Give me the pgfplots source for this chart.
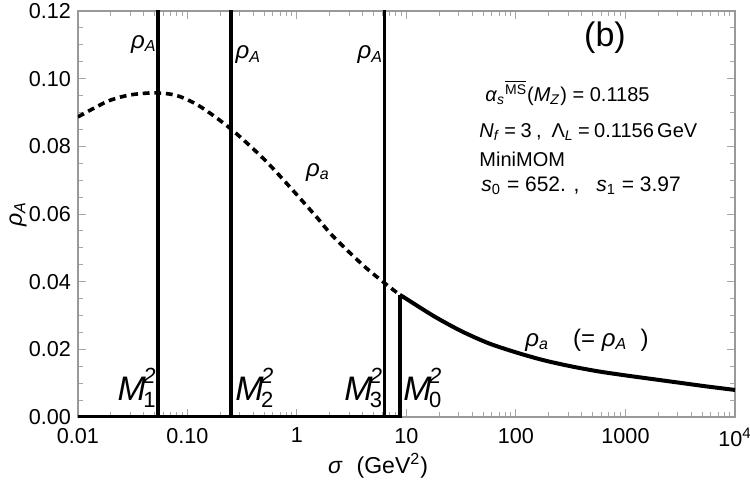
\documentclass[border=0pt]{standalone}
\usepackage{fontspec}
\setmainfont{Liberation Sans}
\usepackage{pgfplots}
\pgfplotsset{compat=1.18}

\newcommand{\rA}{\textit{ρ}\textsubscript{\textit{A}}}
\newcommand{\ra}{\textit{ρ}\textsubscript{\textit{a}}}
% M^2 with stacked sub- and superscript
\newcommand{\Msq}[1]{\textit{M}\kern-0.08em\raisebox{0pt}[0pt][0pt]{\makebox[0pt][l]{\raisebox{0.50em}{\fontsize{11}{12}\selectfont\textit{2}}}\raisebox{-0.22em}{\fontsize{11}{12}\selectfont #1}}\hspace{0.6em}}

\begin{document}
\begin{tikzpicture}
\begin{axis}[
  scale only axis,
  width=328.5pt, height=203pt,
  xmode=log,
  xmin=0.01, xmax=10000,
  ymin=0, ymax=0.12,
  xtick={0.01,0.1,1,10,100,1000,10000},
  xticklabels={0.01,0.10,1,10,100,1000,10\textsuperscript{4}},
  ytick={0,0.02,0.04,0.06,0.08,0.10,0.12},
  yticklabel style={/pgf/number format/.cd,fixed,fixed zerofill,precision=2},
  xticklabel style={yshift=-2pt},
  minor y tick num=3,
  /pgf/number format/assume math mode=true,
  tick label style={font=\fontsize{10.8}{12}\selectfont, text=black},
  tick align=inside,
  tick style={gray!70, line width=0.5pt},
  major tick length=4pt,
  minor tick length=2.5pt,
  axis line style={gray!80, line width=0.6pt},
  xlabel={\textit{σ}\,\, (GeV\textsuperscript{2})},
  ylabel={\rA},
  every axis x label/.style={at={(axis description cs:0.4566,-0.1207)},anchor=center,font=\fontsize{11.5}{13}\selectfont},
  every axis y label/.style={at={(axis description cs:-0.0913,0.5)},rotate=90,anchor=center,font=\fontsize{11.5}{13}\selectfont},
  clip=true,
]
% spectral function below threshold (dotted)
\addplot[black, line width=1.8pt, dash pattern=on 3.4pt off 2.4pt, smooth] coordinates {
  (0.01,0.0887) (0.015,0.0918) (0.02,0.0937) (0.03,0.0952) (0.05,0.0958)
  (0.08,0.0950) (0.13,0.0918) (0.25,0.0851) (0.5,0.0762) (0.86,0.0680)
  (1.5,0.0592) (2.12,0.0535) (4,0.0449) (6.3,0.0396) (8.7,0.0361)
};
% delta-like resonances at M1^2, M2^2, M3^2
\addplot[black, line width=1.8pt] coordinates {(0.0537,0) (0.0537,0.13)};
\addplot[black, line width=1.8pt] coordinates {(0.25,0) (0.25,0.13)};
\addplot[black, line width=1.8pt] coordinates {(6.3,0) (6.3,0.13)};
% zero below threshold M0^2, then the jump
\addplot[black, line width=1.9pt] coordinates {(0.01,0) (8.7,0) (8.7,0.0361)};
% continuum above M0^2
\addplot[black, line width=2pt, smooth] coordinates {
  (8.7,0.0361) (10,0.0349) (17.8,0.0298) (31.6,0.0254) (56.2,0.0218)
  (100,0.0191) (178,0.0168) (316,0.0150) (562,0.0135) (1000,0.0123)
  (1778,0.0112) (3162,0.0101) (5623,0.0090) (10000,0.0080)
};

% labels
\node[anchor=east, inner sep=0.5pt, font=\fontsize{12}{14}\selectfont] at (axis cs:0.0537,0.1102) {\rA};
\node[anchor=west, inner sep=1pt, font=\fontsize{12}{14}\selectfont] at (axis cs:0.262,0.1070) {\rA};
\node[anchor=east, inner sep=0.5pt, font=\fontsize{12}{14}\selectfont] at (axis cs:6.3,0.1070) {\rA};
\node[font=\fontsize{12}{14}\selectfont] at (axis cs:1.55,0.0724) {\ra};
\node[font=\fontsize{12}{14}\selectfont] at (axis cs:445,0.0228) {\ra\quad (= \rA\ \ )};

\node[anchor=base east, inner sep=0pt, font=\fontsize{17}{19}\selectfont] at (axis cs:0.0515,0.0050) {\Msq{1}};
\node[anchor=base west, inner sep=0pt, font=\fontsize{17}{19}\selectfont] at (axis cs:0.272,0.0050) {\Msq{2}};
\node[anchor=base east, inner sep=0pt, font=\fontsize{17}{19}\selectfont] at (axis cs:6.05,0.0050) {\Msq{3}};
\node[anchor=base west, inner sep=0pt, font=\fontsize{17}{19}\selectfont] at (axis cs:9.3,0.0050) {\Msq{0}};

\node[font=\fontsize{17}{20}\selectfont] at (axis cs:650,0.1120) {(b)};
\node[anchor=base west, inner sep=0pt, font=\fontsize{10}{12}\selectfont] at (axis cs:52,0.0932)
  {\textit{α}\textsubscript{\textit{s}}\textsuperscript{$\overline{\hbox{MS}}$}(\textit{M}\textsubscript{\textit{Z}}) = 0.1185};
\node[anchor=base west, inner sep=0pt, font=\fontsize{10}{12}\selectfont] at (axis cs:46,0.0827)
  {\spaceskip=0.22em\textit{N}\textsubscript{\textit{f}} = 3 ,\hspace{0.5em}Λ\textsubscript{\textit{L}} = 0.1156\,GeV};
\node[anchor=base west, inner sep=0pt, font=\fontsize{10}{12}\selectfont] at (axis cs:46,0.0740) {MiniMOM};
\node[anchor=base west, inner sep=0pt, font=\fontsize{10.5}{12}\selectfont] at (axis cs:48,0.0666)
  {\textit{s}\textsubscript{0} = 652. ,\hspace{0.8em}\textit{s}\textsubscript{1} = 3.97};
\end{axis}
\pgfresetboundingbox
\useasboundingbox ([shift={(-39pt,-35.5pt)}]current axis.south west) rectangle ([shift={(7.5pt,5.5pt)}]current axis.north east);
\end{tikzpicture}
\end{document}
